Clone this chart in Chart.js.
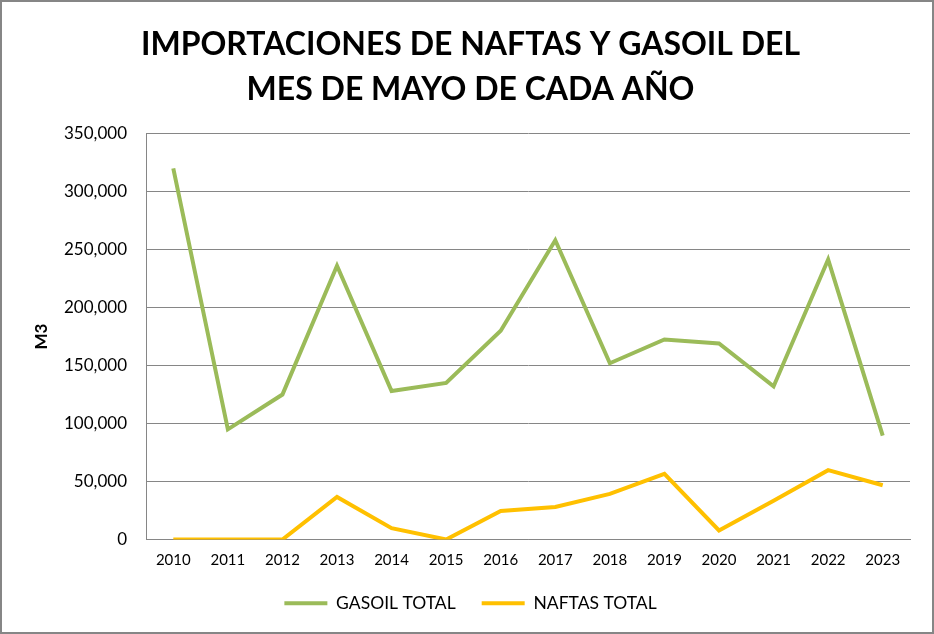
<!DOCTYPE html>
<html>
<head>
<meta charset="utf-8">
<script src="https://cdn.jsdelivr.net/npm/chart.js@4.4.1/dist/chart.umd.min.js"></script>
<style>
  html, body { margin: 0; padding: 0; background: #fff; }
  #wrap { width: 934px; height: 634px; box-sizing: border-box; border: 2px solid #868686; }
  #myChart { display: block; }
</style>
</head>
<body>
<div id="wrap"><canvas id="myChart" width="930" height="630"></canvas></div>
<script>
const years = ['2010', '2011', '2012', '2013', '2014', '2015', '2016', '2017', '2018', '2019', '2020', '2021', '2022', '2023'];
const gasoil = [320000, 95000, 125000, 236000, 128000, 135000, 180000, 258000, 152000, 172500, 169000, 132000, 241500, 89500];
const naftas = [0, 0, 0, 36700, 9800, 0, 24500, 28000, 39300, 56600, 7800, 33500, 59800, 46800];
const titleLines = ['IMPORTACIONES DE NAFTAS Y GASOIL DEL', 'MES DE MAYO DE CADA AÑO'];

const fontFam = 'Lato, "Open Sans", sans-serif';

const drawLineFunc = () => {
    let myChart = document.getElementById('myChart');
    let existingChart = Chart.getChart(myChart);
    if (existingChart) {
        existingChart.destroy();
    }
    new Chart(myChart, {
        type: 'line',
        data: {
            labels: years,
            datasets: [{
                label: 'GASOIL TOTAL',
                data: gasoil,
                borderColor: '#9bbb59',
                backgroundColor: '#9bbb59',
                borderWidth: 4,
                pointRadius: 0,
                tension: 0,
                fill: false
            }, {
                label: 'NAFTAS TOTAL',
                data: naftas,
                borderColor: '#ffc000',
                backgroundColor: '#ffc000',
                borderWidth: 4,
                pointRadius: 0,
                tension: 0,
                fill: false
            }]
        },
        options: {
            responsive: false,
            animation: false,
            layout: { padding: { left: 29, right: 22, top: 14, bottom: 10 } },
            plugins: {
                title: {
                    display: true,
                    text: titleLines,
                    color: '#000',
                    font: { family: fontFam, size: 32, weight: 'bold', lineHeight: 1.4 },
                    padding: { top: 6, bottom: 22 }
                },
                legend: {
                    position: 'bottom',
                    labels: {
                        color: '#000',
                        font: { family: fontFam, size: 17.5 },
                        boxWidth: 43,
                        boxHeight: 4,
                        padding: 26,
                        generateLabels: (chart) => chart.data.datasets.map((ds, i) => ({
                            text: ds.label,
                            fillStyle: ds.borderColor,
                            strokeStyle: ds.borderColor,
                            lineWidth: 0,
                            fontColor: '#000',
                            datasetIndex: i
                        }))
                    }
                },
                tooltip: { enabled: false }
            },
            scales: {
                x: {
                    offset: true,
                    afterFit: (scale) => { scale.height = 29; },
                    grid: { display: false, drawTicks: false },
                    border: { color: '#868686', width: 1 },
                    ticks: { color: '#000', font: { family: fontFam, size: 15 }, padding: 12, maxRotation: 0 }
                },
                y: {
                    min: 0,
                    max: 350000,
                    afterFit: (scale) => { scale.width = 115; },
                    grid: { color: '#868686', lineWidth: 1, drawTicks: false },
                    border: { color: '#868686', width: 1 },
                    ticks: {
                        stepSize: 50000,
                        color: '#000',
                        font: { family: fontFam, size: 17 },
                        padding: 19,
                        callback: (v) => v.toLocaleString('en-US')
                    },
                    title: {
                        display: true,
                        text: 'M3',
                        color: '#000',
                        font: { family: fontFam, size: 17, weight: 'bold' },
                        padding: 0
                    }
                }
            }
        }
    });
}
drawLineFunc();
</script>
</body>
</html>
